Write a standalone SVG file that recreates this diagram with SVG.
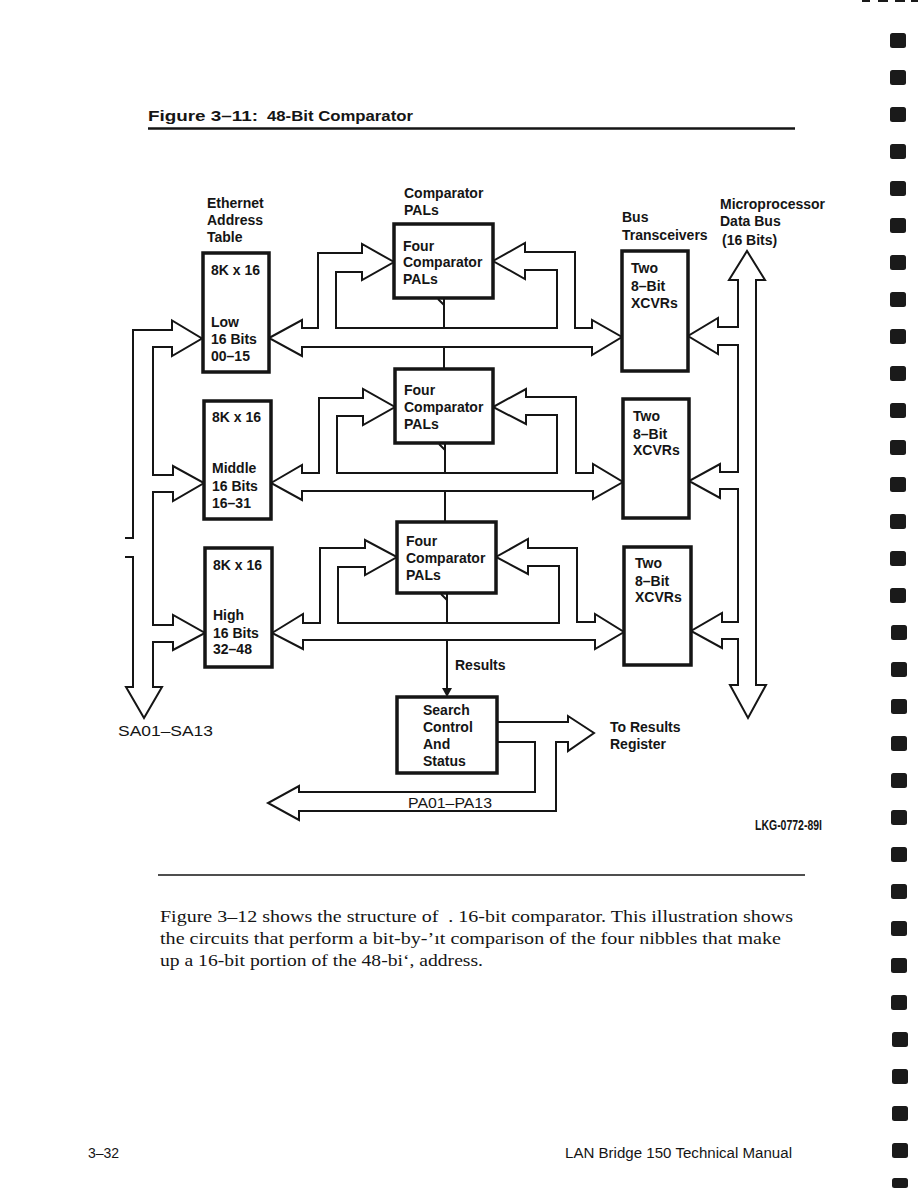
<svg xmlns="http://www.w3.org/2000/svg" width="918" height="1188" viewBox="0 0 918 1188">
<style>
.ln{fill:none;stroke:#151515;stroke-width:2;stroke-linejoin:miter}
.sh{fill:#fff;stroke:#151515;stroke-width:2;stroke-linejoin:miter}
.bx{fill:#fff;stroke:#151515;stroke-width:3.5}
.t{font-family:"Liberation Sans",Arial,sans-serif;font-size:14px;font-weight:bold;fill:#151515}
.r{font-family:"Liberation Sans",Arial,sans-serif;font-size:14px;fill:#151515}
.p{font-family:"Liberation Serif","Times New Roman",serif;font-size:16px;fill:#151515;white-space:pre}
.sq{fill:#1a1a1a}
</style>
<rect width="918" height="1188" fill="#fff"/>

<!-- page artifacts: margin marks -->
<g id="margin">
<rect x="862" y="0" width="8" height="2" class="sq"/>
<rect x="878" y="0" width="10" height="2" class="sq"/>
<rect x="895" y="0" width="10" height="2" class="sq"/>
<rect x="911" y="0" width="7" height="2" class="sq"/>
<rect x="890" y="33" width="16" height="15" rx="2.5" class="sq"/>
<rect x="890" y="70" width="16" height="15" rx="2.5" class="sq"/>
<rect x="890" y="107" width="16" height="15" rx="2.5" class="sq"/>
<rect x="890" y="144" width="16" height="15" rx="2.5" class="sq"/>
<rect x="890" y="181" width="16" height="15" rx="2.5" class="sq"/>
<rect x="890" y="218" width="16" height="15" rx="2.5" class="sq"/>
<rect x="890" y="255" width="16" height="15" rx="2.5" class="sq"/>
<rect x="890" y="292" width="16" height="15" rx="2.5" class="sq"/>
<rect x="890" y="329" width="16" height="15" rx="2.5" class="sq"/>
<rect x="890" y="366" width="16" height="15" rx="2.5" class="sq"/>
<rect x="890" y="403" width="16" height="15" rx="2.5" class="sq"/>
<rect x="890" y="440" width="16" height="15" rx="2.5" class="sq"/>
<rect x="890" y="477" width="16" height="15" rx="2.5" class="sq"/>
<rect x="890" y="514" width="16" height="15" rx="2.5" class="sq"/>
<rect x="890" y="551" width="16" height="15" rx="2.5" class="sq"/>
<rect x="890" y="588" width="16" height="15" rx="2.5" class="sq"/>
<rect x="891" y="625" width="16" height="15" rx="2.5" class="sq"/>
<rect x="891" y="662" width="16" height="15" rx="2.5" class="sq"/>
<rect x="891" y="699" width="16" height="15" rx="2.5" class="sq"/>
<rect x="891" y="736" width="16" height="15" rx="2.5" class="sq"/>
<rect x="891" y="773" width="16" height="15" rx="2.5" class="sq"/>
<rect x="891" y="810" width="16" height="15" rx="2.5" class="sq"/>
<rect x="891" y="847" width="16" height="15" rx="2.5" class="sq"/>
<rect x="891" y="884" width="16" height="15" rx="2.5" class="sq"/>
<rect x="891" y="921" width="16" height="15" rx="2.5" class="sq"/>
<rect x="891" y="958" width="16" height="15" rx="2.5" class="sq"/>
<rect x="891" y="995" width="16" height="15" rx="2.5" class="sq"/>
<rect x="892" y="1032" width="16" height="15" rx="2.5" class="sq"/>
<rect x="892" y="1069" width="16" height="15" rx="2.5" class="sq"/>
<rect x="892" y="1106" width="16" height="15" rx="2.5" class="sq"/>
<rect x="892" y="1143" width="16" height="15" rx="2.5" class="sq"/>
<rect x="892" y="1178" width="16" height="10" rx="2.5" class="sq"/>
</g>

<!-- title -->
<g id="title">
<text class="t" x="148" y="121" font-size="17" textLength="110" lengthAdjust="spacingAndGlyphs">Figure 3–11:</text>
<text class="t" x="267" y="121" font-size="17" textLength="146" lengthAdjust="spacingAndGlyphs">48-Bit Comparator</text>
<line x1="148" y1="128.5" x2="795" y2="128.5" stroke="#151515" stroke-width="2.5"/>
</g>

<!-- connectors -->
<g id="connectors">
<!-- SA bus (left) -->
<path class="sh" d="M125,538 H133 V330 H172 V320.5 L202,338.5 L172,356 V347 H153 V475 H173 V466 L204,483 L173,501 V492 H153 V625 H173 V615 L205,633 L173,650 V642 H153 V687 H162 L144,718 L126,687 H133 V557 H125"/>
<!-- microprocessor data bus (right) -->
<path class="sh" d="M738,280 H729 L747,251 L765,280 H756 V685 H766 L748,718 L730,685 H738 V639 H722 V648 L691,631 L722,613 V622 H738 V489 H720 V498 L689,481 L720,464 V472 H738 V345 H718 V354 L688,336 L718,318 V327 H738 Z"/>
<!-- row 1 bus -->
<path class="sh" d="M269,338 L302,320 V328 H318 V253 H362 V244 L394,262 L362,280 V272 H336 V328 H557 V270 H525 V279 L493,261 L525,243 V252 H575 V328 H592 V320 L622,337 L592,355 V347 H302 V356 Z"/>
<!-- row 2 bus -->
<path class="sh" d="M271,483 L302,465 V473 H319 V398 H363 V389 L395,407 L363,425 V416 H337 V473 H557 V415 H526 V424 L493,407 L526,389 V397 H576 V473 H593 V464 L623,482 L593,499 V491 H302 V500 Z"/>
<!-- row 3 bus -->
<path class="sh" d="M272,633 L303,614 V623 H320 V548 H365 V540 L397,557 L365,575 V567 H338 V623 H559 V566 H528 V574 L496,557 L528,539 V548 H577 V622 H595 V614 L624,632 L595,649 V640 H303 V649 Z"/>
<!-- results chain -->
<path class="ln" d="M444,298 V328 M444,347 V369 M445,443 V473 M445,491 V522 M447,593 V623 M447,640 V690"/>
<path class="ln" d="M438,299 L444,305 M439,444 L445,450 M441,594 L447,600"/>
<path d="M442,688 L452,688 L447,697 Z" fill="#151515"/>
<!-- to results register / PA bus -->
<path class="sh" d="M497,722 H568 V716 L594,733 L568,751 V742 H556 V811 H299 V820 L268,803 L299,786 V792 H535 V742 H497 Z"/>
</g>

<!-- nodes -->
<g id="eta1">
<rect class="bx" x="203" y="253" width="66" height="119"/>
<text class="t" x="211" y="275">8K x 16</text>
<text class="t" x="211" y="327">Low</text>
<text class="t" x="211" y="344">16 Bits</text>
<text class="t" x="211" y="361">00–15</text>
</g>
<g id="eta2">
<rect class="bx" x="204" y="401" width="67" height="118"/>
<text class="t" x="212" y="422">8K x 16</text>
<text class="t" x="212" y="473">Middle</text>
<text class="t" x="212" y="491">16 Bits</text>
<text class="t" x="212" y="508">16–31</text>
</g>
<g id="eta3">
<rect class="bx" x="205" y="548" width="67" height="119"/>
<text class="t" x="213" y="570">8K x 16</text>
<text class="t" x="213" y="620">High</text>
<text class="t" x="213" y="638">16 Bits</text>
<text class="t" x="213" y="654">32–48</text>
</g>
<g id="pal1">
<rect class="bx" x="394" y="224" width="99" height="74"/>
<text class="t" x="403" y="251">Four</text>
<text class="t" x="403" y="267">Comparator</text>
<text class="t" x="403" y="284">PALs</text>
</g>
<g id="pal2">
<rect class="bx" x="395" y="369" width="98" height="74"/>
<text class="t" x="404" y="395">Four</text>
<text class="t" x="404" y="412">Comparator</text>
<text class="t" x="404" y="429">PALs</text>
</g>
<g id="pal3">
<rect class="bx" x="397" y="522" width="99" height="71"/>
<text class="t" x="406" y="546">Four</text>
<text class="t" x="406" y="563">Comparator</text>
<text class="t" x="406" y="580">PALs</text>
</g>
<g id="xcvr1">
<rect class="bx" x="622" y="251" width="66" height="120"/>
<text class="t" x="631" y="273">Two</text>
<text class="t" x="631" y="291">8–Bit</text>
<text class="t" x="631" y="308">XCVRs</text>
</g>
<g id="xcvr2">
<rect class="bx" x="623" y="399" width="66" height="119"/>
<text class="t" x="633" y="421">Two</text>
<text class="t" x="633" y="439">8–Bit</text>
<text class="t" x="633" y="455">XCVRs</text>
</g>
<g id="xcvr3">
<rect class="bx" x="624" y="547" width="67" height="118"/>
<text class="t" x="635" y="568">Two</text>
<text class="t" x="635" y="586">8–Bit</text>
<text class="t" x="635" y="602">XCVRs</text>
</g>
<g id="search">
<rect class="bx" x="397" y="697" width="100" height="76"/>
<text class="t" x="423" y="715">Search</text>
<text class="t" x="423" y="732">Control</text>
<text class="t" x="423" y="749">And</text>
<text class="t" x="423" y="766">Status</text>
</g>

<!-- labels -->
<g id="labels">
<text class="t" x="207" y="208">Ethernet</text>
<text class="t" x="207" y="225">Address</text>
<text class="t" x="207" y="242">Table</text>
<text class="t" x="404" y="198">Comparator</text>
<text class="t" x="404" y="215">PALs</text>
<text class="t" x="622" y="222">Bus</text>
<text class="t" x="622" y="240">Transceivers</text>
<text class="t" x="720" y="209">Microprocessor</text>
<text class="t" x="720" y="226">Data Bus</text>
<text class="t" x="722" y="245">(16 Bits)</text>
<text class="t" x="455" y="670">Results</text>
<text class="r" x="118" y="736" textLength="95" lengthAdjust="spacingAndGlyphs">SA01–SA13</text>
<text class="t" x="610" y="732">To Results</text>
<text class="t" x="610" y="749">Register</text>
<text class="r" x="408" y="808" textLength="84" lengthAdjust="spacingAndGlyphs">PA01–PA13</text>
<text class="t" x="755" y="830" font-size="8" textLength="67" lengthAdjust="spacingAndGlyphs">LKG-0772-89I</text>
</g>

<!-- body text -->
<g id="body">
<line x1="158" y1="875" x2="805" y2="875" stroke="#151515" stroke-width="1.5"/>
<text class="p" x="160" y="922" textLength="633" lengthAdjust="spacingAndGlyphs">Figure 3–12 shows the structure of  . 16-bit comparator. This illustration shows</text>
<text class="p" x="160" y="944" textLength="621" lengthAdjust="spacingAndGlyphs">the circuits that perform a bit-by-’ıt comparison of the four nibbles that make</text>
<text class="p" x="160" y="966" textLength="323" lengthAdjust="spacingAndGlyphs">up a 16-bit portion of the 48-bi‘, address.</text>
<text class="r" x="88" y="1158">3–32</text>
<text class="r" x="565" y="1158" font-size="15" textLength="227" lengthAdjust="spacingAndGlyphs">LAN Bridge 150 Technical Manual</text>
</g>
</svg>
